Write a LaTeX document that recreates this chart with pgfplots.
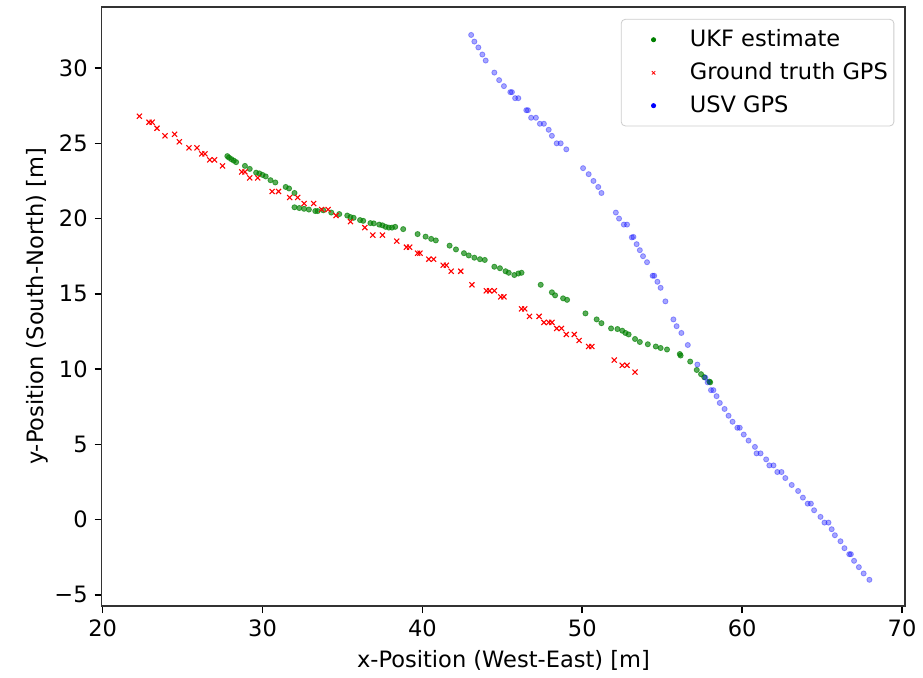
\documentclass[border=0pt]{standalone}
\usepackage{pgfplots}
\pgfplotsset{compat=1.18}
\usepackage{fontspec}
\setmainfont{DejaVu Sans}
\definecolor{mplgreen}{HTML}{008000}
\pgfplotsset{mylegimg/.style={legend image code/.code={\path (-15pt,0pt) (16pt,0pt); \draw[##1] plot coordinates {(0pt,0pt)};}}}
\begin{document}
\begin{tikzpicture}
\begin{axis}[
  scale only axis,
  width=403pt, height=300.5pt,
  xmin=19.94, xmax=70.2, ymin=-5.75, ymax=34.06,
  xtick={20,30,40,50,60,70},
  xticklabels={20,30,40,50,60,70},
  ytick={-5,0,5,10,15,20,25,30},
  yticklabels={−5,0,5,10,15,20,25,30},
  tick align=outside, xtick pos=bottom, ytick pos=left,
  major tick length=3.5pt,
  every tick/.style={black, line width=0.8pt},
  axis line style={line width=0.8pt, black!80},
  tick label style={font=\fontsize{11.3}{13}\selectfont},
  label style={font=\fontsize{11.3}{13}\selectfont},
  xlabel={x-Position (West-East) [m]},
  ylabel={y-Position (South-North) [m]},
  xlabel style={yshift=0pt},
  ylabel style={yshift=-3.5pt},
  mylegimg,
  legend style={at={(1,1)}, anchor=north east, xshift=-5.5pt, yshift=-6pt,
    draw=black!20, rounded corners=2pt,
    font=\fontsize{11.3}{13}\selectfont, row sep=2.5pt, inner xsep=1pt, inner ysep=3.2pt,
    cells={anchor=west}},
  legend cell align=left,
]
\addlegendimage{only marks, mark=*, mark size=1.05pt, mplgreen}
\addlegendentry{UKF estimate}
\addlegendimage{only marks, mark=x, mark size=1.2pt, red, line width=0.4pt}
\addlegendentry{Ground truth GPS}
\addlegendimage{only marks, mark=*, mark size=1.05pt, blue}
\addlegendentry{USV GPS}

% UKF estimate
\addplot[forget plot, only marks, mark=*, mark size=1.3pt, color=mplgreen, opacity=0.65] coordinates {
(27.8,24.15) (27.9,24.05) (28.05,23.95) (28.2,23.85) (28.35,23.75)
(28.9,23.5) (29.2,23.3) (29.6,23.05) (29.8,23.0) (30.0,22.9) (30.2,22.8)
(30.5,22.55) (30.8,22.4) (31.45,22.1) (31.66,22.0) (32.0,21.7)
(32.0,20.75) (32.3,20.7) (32.6,20.65) (32.9,20.6) (33.3,20.5) (33.45,20.5)
(33.8,20.55) (34.3,20.4) (34.8,20.3) (35.3,20.2) (35.5,20.1) (35.7,20.05)
(36.1,19.9) (36.3,19.85) (36.75,19.7) (36.96,19.68) (37.3,19.6) (37.5,19.55)
(37.7,19.45) (37.9,19.4) (38.1,19.4) (38.3,19.45)
(38.8,19.3) (39.7,18.97) (40.2,18.8) (40.55,18.65) (40.84,18.55)
(41.7,18.2) (42.1,17.95) (42.6,17.7) (42.9,17.55) (43.25,17.4) (43.6,17.3) (43.9,17.25)
(44.5,16.8) (44.85,16.7) (45.2,16.5) (45.4,16.4) (45.75,16.25) (46.0,16.35) (46.2,16.4)
(47.4,15.6) (48.1,15.1) (48.3,14.9) (48.8,14.7) (49.05,14.6)
(50.2,13.7) (50.9,13.3) (51.2,13.05)
(51.8,12.7) (52.2,12.66) (52.5,12.55) (52.7,12.4) (52.9,12.3)
(53.3,12.0) (53.6,11.8) (54.1,11.65) (54.6,11.5) (54.9,11.4) (55.3,11.3)
(56.1,11.0) (56.15,10.9) (56.75,10.5)
(57.16,9.94) (57.43,9.66) (57.63,9.46) (57.95,9.17) (58.0,9.12)
};
% Ground truth GPS
\addplot[forget plot, only marks, mark=x, mark size=1.8pt, color=red, line width=0.55pt] coordinates {
(22.3,26.8) (22.9,26.4) (23.1,26.4) (23.4,26.0) (23.9,25.5) (24.5,25.6) (24.8,25.1)
(25.4,24.7) (25.9,24.7) (26.2,24.3) (26.4,24.3) (26.7,23.9) (27.0,23.9) (27.5,23.5)
(28.7,23.1) (28.9,23.1) (29.2,22.7) (29.7,22.7) (30.6,21.8) (31.0,21.8) (31.7,21.4) (32.2,21.4)
(32.6,21.0) (33.2,21.0) (33.7,20.6) (34.1,20.6) (34.6,20.2) (35.5,19.8) (36.4,19.4)
(36.9,18.9) (37.5,18.9) (38.4,18.5) (39.0,18.1) (39.2,18.1) (39.7,17.7) (39.85,17.7)
(40.4,17.3) (40.7,17.3) (41.3,16.9) (41.5,16.9) (41.8,16.5) (42.4,16.5) (43.1,15.6)
(44.0,15.2) (44.2,15.2) (44.5,15.2) (44.9,14.8) (45.1,14.8) (46.2,14.0) (46.4,14.0)
(46.7,13.5) (47.3,13.5) (47.6,13.1) (47.9,13.1) (48.1,13.1) (48.4,12.7) (48.7,12.7)
(49.0,12.3) (49.5,12.3) (49.8,11.9) (50.4,11.5) (50.6,11.5) (52.0,10.6) (52.5,10.25)
(52.8,10.25) (53.3,9.8)
};
% USV GPS
\addplot[forget plot, only marks, mark=*, mark size=1.3pt, color=blue, opacity=0.35] coordinates {
(43.05,32.2) (43.25,31.76) (43.5,31.37) (43.75,30.9) (43.96,30.5) (44.5,29.7) (44.8,29.2)
(45.1,28.8) (45.5,28.4) (45.6,28.4) (45.8,28.0) (46.0,28.0) (46.5,27.2) (46.6,27.2)
(46.8,26.7) (47.1,26.7) (47.35,26.3) (47.6,26.3) (47.9,25.9) (48.1,25.5) (48.4,25.0)
(48.65,25.0) (49.0,24.6) (50.05,23.35) (50.4,22.95) (50.7,22.5) (51.0,22.1) (51.2,21.7)
(52.1,20.4) (52.3,20.0) (52.6,19.6) (52.8,19.6) (53.1,18.75) (53.2,18.78) (53.4,18.3)
(53.6,17.9) (53.8,17.5) (54.05,17.1) (54.4,16.2) (54.5,16.2) (54.7,15.8) (54.9,15.4)
(55.2,14.5) (55.7,13.3) (55.9,12.85) (56.2,12.4) (56.6,11.6) (57.2,10.3)
(57.7,9.43) (57.84,9.12) (58.05,8.6) (58.2,8.6) (58.4,8.2) (58.6,7.75) (58.9,7.35)
(59.15,6.9) (59.4,6.5) (59.7,6.1) (59.85,6.1) (60.1,5.65) (60.4,5.25) (60.8,4.83)
(60.9,4.4) (61.15,4.4) (61.5,4.0) (61.7,3.6) (61.96,3.6) (62.2,3.16) (62.46,3.16)
(62.7,2.76) (63.1,2.3) (63.5,1.9) (63.8,1.46) (64.1,1.06) (64.3,1.06) (64.5,0.62)
(64.9,0.18) (65.15,-0.2) (65.4,-0.2) (65.6,-0.64) (65.8,-1.04) (66.15,-1.44) (66.4,-1.9)
(66.7,-2.3) (66.8,-2.3) (67.0,-2.74) (67.3,-3.16) (67.6,-3.58) (67.96,-4.0)
};
\end{axis}
\path ([xshift=-51pt,yshift=-35.5pt]current axis.south west) rectangle ([xshift=7.5pt,yshift=3.5pt]current axis.north east);
\end{tikzpicture}
\end{document}
